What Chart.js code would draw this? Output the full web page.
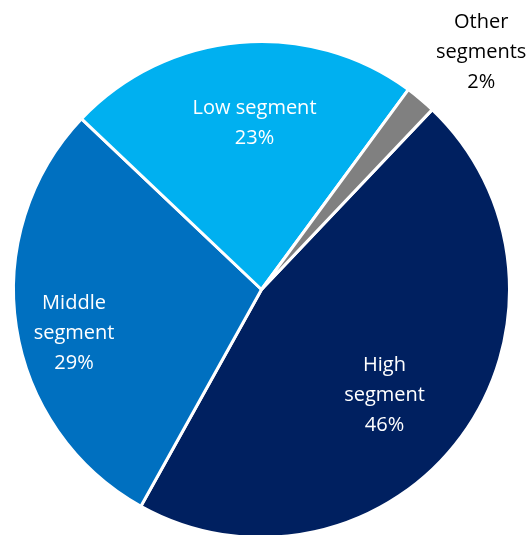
<!DOCTYPE html>
<html>
<head>
<meta charset="utf-8">
<script src="https://cdn.jsdelivr.net/npm/chart.js@4.4.1/dist/chart.umd.min.js"></script>
<style>
  html, body { margin: 0; padding: 0; background: #fff; overflow: hidden; }
  #wrap { width: 532px; height: 541px; position: relative; }
</style>
</head>
<body>
<div id="wrap"><canvas id="chart"></canvas></div>
<script>
const segments = ['High segment', 'Middle segment', 'Low segment', 'Other segments'];
const shares = [46, 29, 23, 2];
const sliceColors = ['#002060', '#0070C0', '#00B0F0', '#808080'];

// label lines per slice, and where each sits relative to the pie centre
// (fractions of the outer radius)
const labelLines = [
  ['High', 'segment', '46%'],
  ['Middle', 'segment', '29%'],
  ['Low segment', '23%'],
  ['Other', 'segments', '2%'],
];
const labelAnchor = [[0.496, 0.425], [-0.756, 0.175], [-0.028, -0.671], [0.886, -0.958]];
const labelColor = ['#fff', '#fff', '#fff', '#000'];

const sliceLabels = {
  id: 'sliceLabels',
  afterDatasetsDraw(chart) {
    const ctx = chart.ctx;
    const arcs = chart.getDatasetMeta(0).data;
    ctx.save();
    ctx.font = '20px "Open Sans", sans-serif';
    ctx.textAlign = 'center';
    ctx.textBaseline = 'middle';
    arcs.forEach((arc, i) => {
      const r = arc.outerRadius;
      const cx = arc.x + labelAnchor[i][0] * r;
      const cy = arc.y + labelAnchor[i][1] * r;
      const lines = labelLines[i];
      const lh = 30;
      ctx.fillStyle = labelColor[i];
      lines.forEach((t, k) => {
        ctx.fillText(t, cx, cy + (k - (lines.length - 1) / 2) * lh);
      });
    });
    ctx.restore();
  }
};

new Chart(document.getElementById('chart'), {
  type: 'pie',
  data: {
    labels: segments,
    datasets: [{
      data: shares,
      backgroundColor: sliceColors,
      borderColor: '#ffffff',
      borderWidth: 3,
    }]
  },
  options: {
    responsive: true,
    maintainAspectRatio: false,
    animation: false,
    rotation: 43.5,
    layout: { padding: { left: 12, right: 21, top: 40, bottom: 2 } },
    plugins: {
      legend: { display: false },
      tooltip: { enabled: false },
    },
  },
  plugins: [sliceLabels],
});
</script>
</body>
</html>
